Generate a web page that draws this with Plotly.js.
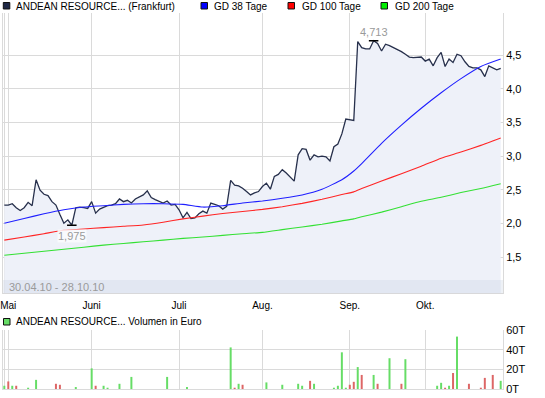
<!DOCTYPE html>
<html>
<head>
<meta charset="utf-8">
<script src="https://cdn.plot.ly/plotly-3.0.1.min.js"></script>
<style>
  html, body { margin: 0; padding: 0; background: #ffffff; }
  #chart { width: 545px; height: 398px; }
</style>
</head>
<body>
<div id="chart"></div>
<script>
// ---- Data ----
const dates = [
  '30.04.10',
  '03.05.10','04.05.10','05.05.10','06.05.10','07.05.10','10.05.10','11.05.10','12.05.10','13.05.10','14.05.10',
  '17.05.10','18.05.10','19.05.10','20.05.10','21.05.10','24.05.10','25.05.10','26.05.10','27.05.10','28.05.10','31.05.10',
  '01.06.10','02.06.10','03.06.10','04.06.10','07.06.10','08.06.10','09.06.10','10.06.10','11.06.10','14.06.10','15.06.10',
  '16.06.10','17.06.10','18.06.10','21.06.10','22.06.10','23.06.10','24.06.10','25.06.10','28.06.10','29.06.10','30.06.10',
  '01.07.10','02.07.10','05.07.10','06.07.10','07.07.10','08.07.10','09.07.10','12.07.10','13.07.10','14.07.10','15.07.10',
  '16.07.10','19.07.10','20.07.10','21.07.10','22.07.10','26.07.10','27.07.10','28.07.10','29.07.10','30.07.10',
  '02.08.10','03.08.10','04.08.10','05.08.10','06.08.10','09.08.10','10.08.10','11.08.10','12.08.10','13.08.10','16.08.10',
  '17.08.10','18.08.10','19.08.10','20.08.10','23.08.10','24.08.10','25.08.10','26.08.10','27.08.10','30.08.10','31.08.10',
  '01.09.10','02.09.10','06.09.10','07.09.10','08.09.10','09.09.10','13.09.10','14.09.10','15.09.10','16.09.10','20.09.10',
  '21.09.10','22.09.10','23.09.10','24.09.10','27.09.10','28.09.10','29.09.10','30.09.10',
  '01.10.10','04.10.10','05.10.10','06.10.10','07.10.10','08.10.10','11.10.10','12.10.10','13.10.10','14.10.10','15.10.10',
  '18.10.10','19.10.10','20.10.10','21.10.10','22.10.10','25.10.10','26.10.10','27.10.10','28.10.10'
];

const price = [
  2.275,
  2.275, 2.295, 2.235, 2.195, 2.235, 2.315, 2.265, 2.65, 2.495, 2.435,
  2.415, 2.325, 2.275, 2.135, 2.005, 2.055, 1.975, 2.235, 2.245, 2.235, 2.225,
  2.325, 2.155, 2.215, 2.245, 2.265, 2.275, 2.295, 2.365, 2.325, 2.345, 2.305,
  2.365, 2.395, 2.425, 2.485, 2.385, 2.355, 2.335, 2.305, 2.335, 2.275, 2.285,
  2.205, 2.085, 2.165, 2.075, 2.085, 2.145, 2.185, 2.155, 2.305, 2.285, 2.265,
  2.215, 2.255, 2.64, 2.57, 2.56, 2.525, 2.475, 2.425, 2.455, 2.475,
  2.55, 2.60, 2.51, 2.70, 2.73, 2.80, 2.75, 2.69, 2.63, 3.02, 3.11,
  3.10, 2.94, 3.02, 2.99, 3.00, 2.99, 2.93, 3.14, 3.18, 3.33, 3.55,
  3.54, 3.53, 4.70, 4.61, 4.59, 4.59, 4.713, 4.67, 4.56, 4.66, 4.64,
  4.61, 4.59, 4.55, 4.51, 4.47, 4.46, 4.46, 4.47,
  4.41, 4.44, 4.34, 4.46, 4.54, 4.33, 4.44, 4.39, 4.51, 4.49, 4.40,
  4.33, 4.31, 4.31, 4.28, 4.18, 4.34, 4.31, 4.28, 4.30
];

const maDates = [
  '30.04.10','07.05.10','14.05.10','21.05.10','28.05.10','04.06.10','11.06.10','18.06.10','25.06.10',
  '02.07.10','09.07.10','16.07.10','26.07.10','02.08.10','09.08.10','16.08.10','23.08.10','30.08.10',
  '02.09.10','07.09.10','15.09.10','23.09.10','30.09.10','07.10.10','14.10.10','21.10.10','28.10.10'
];
const gd38 = [
  2.005, 2.075, 2.145, 2.205, 2.245, 2.265, 2.285, 2.295, 2.295,
  2.285, 2.245, 2.265, 2.305, 2.335, 2.375, 2.425, 2.51, 2.65,
  2.78, 2.89, 3.19, 3.46, 3.71, 3.94, 4.15, 4.33, 4.44
];
const gd100 = [
  1.755, 1.80, 1.85, 1.90, 1.92, 1.94, 1.96, 1.98, 2.02,
  2.07, 2.11, 2.15, 2.18, 2.21, 2.25, 2.30, 2.36, 2.43,
  2.47, 2.52, 2.63, 2.74, 2.85, 2.97, 3.06, 3.16, 3.27
];
const gd200 = [
  1.53, 1.56, 1.59, 1.62, 1.65, 1.68, 1.705, 1.73, 1.755,
  1.78, 1.80, 1.825, 1.85, 1.87, 1.91, 1.95, 1.99, 2.04,
  2.07, 2.10, 2.17, 2.25, 2.33, 2.39, 2.46, 2.52, 2.59
];

// Volume in thousand euro (T)
const volUpDates = [
  '30.04.10','04.05.10','10.05.10','12.05.10','26.05.10','01.06.10','04.06.10','07.06.10','10.06.10','15.06.10',
  '28.06.10','05.07.10','20.07.10','22.07.10','03.08.10','09.08.10','13.08.10','16.08.10','19.08.10','26.08.10',
  '27.08.10','30.08.10','31.08.10','06.09.10','13.09.10','20.09.10','24.09.10','06.10.10','07.10.10','11.10.10',
  '13.10.10','28.10.10'
];
const volUpValues = [
  3.3, 3.3, 1.3, 9.3, 2.0, 21.0, 3.3, 1.3, 5.3, 12.3,
  12.3, 2.0, 42.3, 5.3, 6.7, 4.3, 5.3, 3.3, 5.3, 1.3,
  3.3, 37.3, 1.3, 22.3, 14.3, 31.3, 30.3, 3.3, 6.3, 3.3,
  53.3, 8.3
];
const volDownDates = [
  '03.05.10','05.05.10','19.05.10','20.05.10','02.06.10','21.07.10','26.07.10','18.08.10','01.09.10','02.09.10',
  '07.09.10','14.09.10','23.09.10','08.10.10','12.10.10','18.10.10','21.10.10','22.10.10','26.10.10'
];
const volDownValues = [
  7.7, 3.3, 5.3, 4.3, 3.3, 1.3, 4.3, 8.3, 4.3, 7.3,
  14.3, 5.3, 5.3, 1.3, 16.3, 5.3, 1.3, 11.3, 14.3
];

const monthTickDates  = ['30.04.10','03.05.10','01.06.10','01.07.10','02.08.10','01.09.10','01.10.10'];
const monthTickLabels = ['', 'Mai', 'Juni', 'Juli', 'Aug.', 'Sep.', 'Okt.'];
const priceTicks = [1.5, 2.0, 2.5, 3.0, 3.5, 4.0, 4.5];
const volTicks = [0, 20, 40, 60];
const volTickLabels = ['0T', '20T', '40T', '60T'];

const seriesNames = ['ANDEAN RESOURCE... (Frankfurt)', 'GD 38 Tage', 'GD 100 Tage', 'GD 200 Tage'];
const volumeName = 'ANDEAN RESOURCE... Volumen in Euro';

// ---- Styling / layout helpers ----
const W = 545, H = 398;
const M = {l: 3, r: 42, t: 13, b: 9};
const PW = W - M.l - M.r, PH = H - M.t - M.b;
const px = x => (x - M.l) / PW;
const py = y => (H - M.b - y) / PH;

const FONT = 'Liberation Sans, Arial, sans-serif';
const GRID = '#dadada';
const cNavy = '#27304c', cBlue = '#1f1fff', cRed = '#ff2525', cGreen = '#33e033';
const cVolUp = '#66dd66', cVolDown = '#dd6666';

const priceDomain = [py(293.3), 1];
const volDomain = [0, py(330)];

const traces = [
  {x: dates, y: price, type: 'scatter', mode: 'lines', xaxis: 'x', yaxis: 'y',
   line: {color: cNavy, width: 1.3}, fill: 'tozeroy', fillcolor: 'rgb(238,241,249)', hoverinfo: 'skip'},
  {x: maDates, y: gd200, type: 'scatter', mode: 'lines', xaxis: 'x', yaxis: 'y',
   line: {color: cGreen, width: 1.1, shape: 'spline', smoothing: 0.5}},
  {x: maDates, y: gd100, type: 'scatter', mode: 'lines', xaxis: 'x', yaxis: 'y',
   line: {color: cRed, width: 1.1, shape: 'spline', smoothing: 0.5}},
  {x: maDates, y: gd38, type: 'scatter', mode: 'lines', xaxis: 'x', yaxis: 'y',
   line: {color: cBlue, width: 1.1, shape: 'spline', smoothing: 0.5}},
  {x: volUpDates, y: volUpValues, type: 'bar', xaxis: 'x2', yaxis: 'y2',
   marker: {color: cVolUp, line: {width: 0}}, width: 0.5},
  {x: volDownDates, y: volDownValues, type: 'bar', xaxis: 'x2', yaxis: 'y2',
   marker: {color: cVolDown, line: {width: 0}}, width: 0.5}
];

// max / min markers from data
let maxI = 0, minI = 0;
price.forEach((v, i) => { if (v > price[maxI]) maxI = i; if (v < price[minI]) minI = i; });
const fmt = v => v.toFixed(3).replace('.', ',');

const shapes = [];
const annotations = [];

// bottom date band
shapes.push({type: 'rect', xref: 'paper', yref: 'paper', x0: 0, x1: 1, y0: py(293.3), y1: py(280),
  fillcolor: 'rgba(200,207,226,0.3)', line: {width: 0}, layer: 'above'});

// max / min dashes
shapes.push({type: 'line', xref: 'x', yref: 'y', x0: maxI - 1.2, x1: maxI + 1.2, y0: price[maxI], y1: price[maxI],
  line: {color: '#000', width: 1.5}});
shapes.push({type: 'line', xref: 'x', yref: 'y', x0: minI - 1.2, x1: minI + 1.2, y0: price[minI], y1: price[minI],
  line: {color: '#000', width: 1.5}});
annotations.push({xref: 'x', yref: 'y', x: dates[maxI], y: price[maxI], text: fmt(price[maxI]),
  showarrow: false, yanchor: 'bottom', yshift: 1, font: {family: FONT, size: 11, color: '#9a9a9a'}});
annotations.push({xref: 'x', yref: 'y', x: dates[minI], y: price[minI], text: fmt(price[minI]),
  showarrow: false, yanchor: 'top', yshift: -4, bgcolor: 'rgba(250,251,254,0.85)', borderpad: 0,
  font: {family: FONT, size: 11, color: '#9a9a9a'}});
annotations.push({xref: 'paper', yref: 'paper', x: px(7), y: py(286.7), xanchor: 'left', yanchor: 'middle',
  text: dates[0] + ' - ' + dates[dates.length - 1], showarrow: false,
  font: {family: FONT, size: 11, color: '#9a9a9a'}});

// top legend
const legendItems = [
  {sq: 3.3, tx: 14, color: '#1e2846', name: seriesNames[0]},
  {sq: 201, tx: 212, color: '#0000ff', name: seriesNames[1]},
  {sq: 288, tx: 300, color: '#ff0000', name: seriesNames[2]},
  {sq: 381, tx: 393, color: '#00ee00', name: seriesNames[3]}
];
legendItems.forEach(it => {
  shapes.push({type: 'rect', xref: 'paper', yref: 'paper', x0: px(it.sq), x1: px(it.sq + 6.5),
    y0: py(9), y1: py(2.5), fillcolor: it.color, line: {color: '#111', width: 1}});
  annotations.push({xref: 'paper', yref: 'paper', x: px(it.tx), y: py(6.2), xanchor: 'left', yanchor: 'middle',
    text: it.name, showarrow: false, font: {family: FONT, size: 10, color: '#000'}});
});
// volume legend
shapes.push({type: 'rect', xref: 'paper', yref: 'paper', x0: px(3.5), x1: px(10), y0: py(325), y1: py(318.5),
  fillcolor: cVolUp, line: {color: '#111', width: 1}});
annotations.push({xref: 'paper', yref: 'paper', x: px(14), y: py(321.8), xanchor: 'left', yanchor: 'middle',
  text: volumeName, showarrow: false, font: {family: FONT, size: 10, color: '#000'}});

const xRange = [-0.33, dates.length - 1 + 0.58];

const layout = {
  width: W, height: H,
  margin: M,
  paper_bgcolor: '#ffffff', plot_bgcolor: '#ffffff',
  showlegend: false,
  separators: ',.',
  barmode: 'overlay',
  font: {family: FONT, size: 11, color: '#000'},
  xaxis: {type: 'category', categoryorder: 'array', categoryarray: dates, range: xRange,
    domain: [0, 1], anchor: 'y', tickmode: 'array', tickvals: monthTickDates, ticktext: monthTickLabels,
    showgrid: true, gridcolor: GRID, gridwidth: 1, ticks: '', ticklabelstandoff: 3, zeroline: false,
    showline: true, linecolor: GRID, linewidth: 1, tickfont: {family: FONT, size: 10, color: '#000'}},
  yaxis: {domain: priceDomain, anchor: 'x', side: 'right', range: [0.966, 5.123],
    tickmode: 'array', tickvals: priceTicks, tickformat: '.1f',
    showgrid: true, gridcolor: GRID, gridwidth: 1, ticks: '', zeroline: false,
    showline: true, mirror: true, linecolor: GRID, linewidth: 1,
    tickfont: {family: FONT, size: 11, color: '#000'}},
  xaxis2: {type: 'category', categoryorder: 'array', categoryarray: dates, range: xRange,
    matches: 'x', domain: [0, 1], anchor: 'y2', tickmode: 'array', tickvals: monthTickDates,
    showticklabels: false, showgrid: true, gridcolor: GRID, gridwidth: 1, ticks: '', zeroline: false,
    showline: true, linecolor: GRID, linewidth: 1},
  yaxis2: {domain: volDomain, anchor: 'x2', side: 'right', range: [0, 60],
    tickmode: 'array', tickvals: volTicks, ticktext: volTickLabels,
    showgrid: true, gridcolor: GRID, gridwidth: 1, ticks: '', zeroline: false,
    showline: true, mirror: true, linecolor: GRID, linewidth: 1,
    tickfont: {family: FONT, size: 11, color: '#000'}},
  shapes: shapes,
  annotations: annotations
};

Plotly.newPlot('chart', traces, layout, {staticPlot: true, displayModeBar: false});
</script>
</body>
</html>
